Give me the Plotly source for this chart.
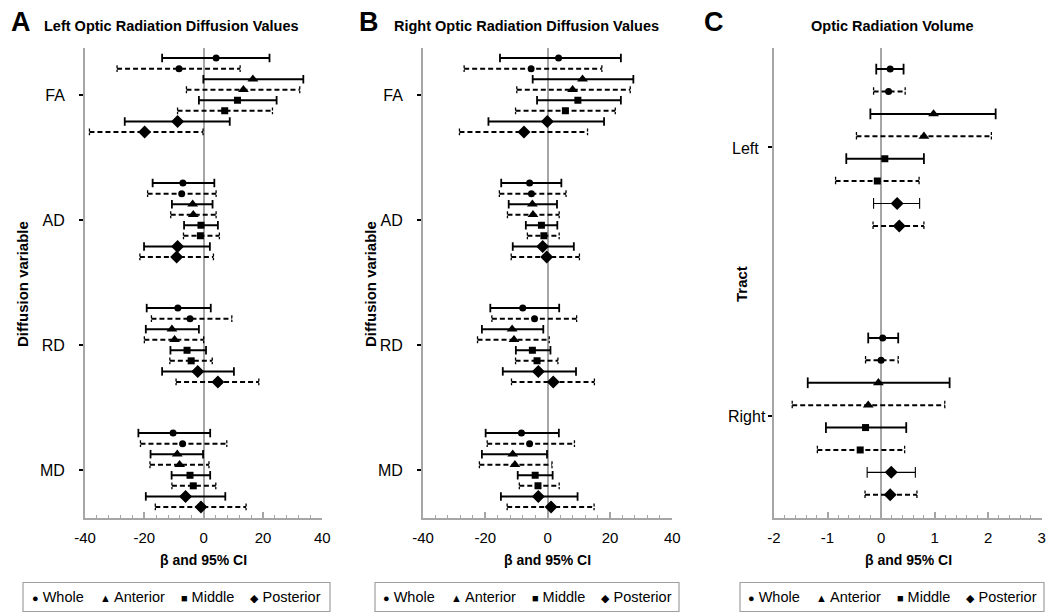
import plotly.graph_objects as go

# ---------------- data ----------------
regions = ["Whole", "Anterior", "Middle", "Posterior"]
diff_vars = ["FA", "AD", "RD", "MD"]
tracts = ["Left", "Right"]
x_ticks_ab = [-40, -20, 0, 20, 40]
x_ticks_c = [-2, -1, 0, 1, 2, 3]

# rows = diffusion variable (FA, AD, RD, MD); columns = region (Whole, Anterior, Middle, Posterior)
A_solid_est = [[4.2, 16.6, 11.4, -8.8], [-7.0, -3.7, -0.9, -8.8], [-8.7, -10.7, -5.6, -2.0], [-10.3, -8.9, -4.6, -6.1]]
A_solid_lo = [[-14.0, -0.1, -1.6, -26.6], [-17.2, -10.7, -6.6, -20.1], [-19.2, -19.5, -11.2, -14.0], [-22.0, -17.9, -10.8, -19.5]]
A_solid_hi = [[22.2, 33.6, 24.6, 8.8], [3.6, 3.0, 4.8, 2.1], [2.4, -1.6, 0.8, 10.2], [2.2, -0.2, 2.2, 7.3]]
A_dash_est = [[-8.3, 13.4, 7.1, -19.9], [-7.4, -3.5, -1.1, -9.1], [-4.6, -9.8, -4.2, 4.8], [-7.1, -8.1, -3.5, -0.9]]
A_dash_lo = [[-29.2, -5.8, -8.8, -38.5], [-18.9, -11.1, -6.8, -21.5], [-17.6, -20.0, -11.4, -9.3], [-21.3, -18.1, -10.7, -16.3]]
A_dash_hi = [[12.3, 32.4, 23.2, -0.2], [4.2, 4.2, 5.3, 3.3], [9.5, 0.0, 2.9, 18.6], [7.8, 1.8, 4.1, 14.3]]

B_solid_est = [[3.5, 11.2, 9.7, -0.1], [-5.8, -4.9, -2.0, -1.6], [-8.0, -11.4, -4.9, -3.0], [-8.4, -11.2, -4.0, -3.0]]
B_solid_lo = [[-15.3, -4.8, -3.4, -19.0], [-14.9, -12.5, -7.0, -11.2], [-18.4, -21.1, -10.2, -14.4], [-19.9, -21.1, -9.6, -15.0]]
B_solid_hi = [[23.5, 27.5, 23.5, 18.1], [4.4, 3.0, 3.1, 8.4], [3.7, -1.4, 0.9, 9.1], [3.6, -0.2, 1.6, 9.6]]
B_dash_est = [[-5.3, 8.0, 5.7, -7.6], [-5.2, -4.7, -1.2, -0.3], [-4.2, -10.8, -3.4, 1.8], [-5.8, -10.5, -3.1, 1.1]]
B_dash_lo = [[-26.8, -9.9, -10.3, -28.3], [-15.5, -12.9, -6.5, -11.7], [-17.9, -22.5, -10.3, -11.6], [-19.4, -21.9, -9.1, -13.0]]
B_dash_hi = [[17.4, 26.5, 21.7, 12.8], [5.9, 3.7, 3.7, 10.2], [9.3, 0.5, 3.3, 15.0], [8.6, 1.4, 3.7, 14.9]]

# rows = tract (Left, Right)
C_solid_est = [[0.17, 0.98, 0.07, 0.30], [0.03, -0.05, -0.29, 0.19]]
C_solid_lo = [[-0.09, -0.20, -0.65, -0.14], [-0.24, -1.37, -1.03, -0.26]]
C_solid_hi = [[0.42, 2.14, 0.80, 0.72], [0.32, 1.28, 0.47, 0.64]]
C_dash_est = [[0.14, 0.80, -0.07, 0.34], [0.00, -0.24, -0.39, 0.17]]
C_dash_lo = [[-0.14, -0.46, -0.85, -0.15], [-0.29, -1.66, -1.19, -0.30]]
C_dash_hi = [[0.45, 2.06, 0.71, 0.80], [0.32, 1.19, 0.44, 0.67]]

# ---------------- style ----------------
FONT = "Liberation Sans, Arial, Helvetica, sans-serif"
GRAY = "#a6a6a6"
symbols = ["circle", "triangle-up", "square", "diamond"]
msizes = [7, 9.5, 7, 10]
W, H = 1047, 613

fig = go.Figure()


def px(xp):
    return xp / W


def py(yp):
    return 1 - yp / H


def add_panel(ax, cats, s_est, s_lo, s_hi, d_est, d_lo, d_hi, step, cap, thin_post=False):
    xa, ya = "x" + ax, "y" + ax
    sl_x, sl_y, slc_x, slc_y = [], [], [], []
    tl_x, tl_y = [], []
    dl_x, dl_y, dlc_x, dlc_y = [], [], [], []
    mk = {r: ([], []) for r in range(4)}
    for ci in range(len(cats)):
        for r in range(4):
            for m in range(2):
                y = ci + (2 * r + m - 3.5) * step
                if m == 0:
                    lo, hi, est = s_lo[ci][r], s_hi[ci][r], s_est[ci][r]
                    if thin_post and r == 3:
                        tl_x.extend([lo, hi, None, lo, lo, None, hi, hi, None])
                        tl_y.extend([y, y, None, y - cap, y + cap, None, y - cap, y + cap, None])
                    else:
                        sl_x.extend([lo, hi, None])
                        sl_y.extend([y, y, None])
                        slc_x.extend([lo, lo, None, hi, hi, None])
                        slc_y.extend([y - cap, y + cap, None, y - cap, y + cap, None])
                else:
                    lo, hi, est = d_lo[ci][r], d_hi[ci][r], d_est[ci][r]
                    dl_x.extend([lo, hi, None])
                    dl_y.extend([y, y, None])
                    dlc_x.extend([lo, lo, None, hi, hi, None])
                    dlc_y.extend([y - cap * 0.8, y + cap * 0.8, None, y - cap * 0.8, y + cap * 0.8, None])
                mk[r][0].append(est)
                mk[r][1].append(y)
    common = dict(xaxis=xa, yaxis=ya, showlegend=False, hoverinfo="skip", mode="lines")
    fig.add_trace(go.Scatter(x=sl_x, y=sl_y, line=dict(color="black", width=2), **common))
    fig.add_trace(go.Scatter(x=slc_x, y=slc_y, line=dict(color="black", width=1.8), **common))
    if tl_x:
        fig.add_trace(go.Scatter(x=tl_x, y=tl_y, line=dict(color="black", width=1.1), **common))
    fig.add_trace(go.Scatter(x=dl_x, y=dl_y, line=dict(color="black", width=2, dash="5px,3px"), **common))
    fig.add_trace(go.Scatter(x=dlc_x, y=dlc_y, line=dict(color="black", width=1.3, dash="3px,1.5px"), **common))
    for r in range(4):
        fig.add_trace(go.Scatter(x=mk[r][0], y=mk[r][1], mode="markers", xaxis=xa, yaxis=ya,
                                 name=regions[r], showlegend=False, hoverinfo="skip",
                                 marker=dict(symbol=symbols[r], size=msizes[r], color="black")))


add_panel("", diff_vars, A_solid_est, A_solid_lo, A_solid_hi, A_dash_est, A_dash_lo, A_dash_hi, 0.0844, 0.034)
add_panel("2", diff_vars, B_solid_est, B_solid_lo, B_solid_hi, B_dash_est, B_dash_lo, B_dash_hi, 0.0844, 0.034)
add_panel("3", tracts, C_solid_est, C_solid_lo, C_solid_hi, C_dash_est, C_dash_lo, C_dash_hi, 0.0833, 0.02, thin_post=True)

y_dom = [py(518), py(48)]


def xaxis_cfg(dom, ticks, dt):
    return dict(domain=dom, range=[ticks[0], ticks[-1]], tickmode="array", tickvals=ticks,
                ticktext=[str(t) for t in ticks], showgrid=False, automargin=False,
                zeroline=True, zerolinecolor=GRAY, zerolinewidth=2,
                showline=True, linecolor=GRAY, linewidth=2, ticks="inside", ticklen=6,
                tickcolor=GRAY, tickwidth=1.5, ticklabelstandoff=5,
                tickfont=dict(family=FONT, size=15, color="black"),
                minor=dict(tickmode="linear", tick0=ticks[0], dtick=dt / 5, ticks="inside", ticklen=3,
                           tickcolor=GRAY, tickwidth=1, showgrid=False),
                fixedrange=True)


def yaxis_cfg(anchor, rng, vals, texts, standoff):
    return dict(domain=y_dom, range=rng, anchor=anchor, tickmode="array", tickvals=vals, ticktext=texts,
                showgrid=False, zeroline=False, showline=True, linecolor=GRAY, linewidth=2,
                ticks="outside", ticklen=4, tickcolor="black", tickwidth=1.5, automargin=False,
                ticklabelstandoff=standoff,
                tickfont=dict(family=FONT, size=16, color="black"), fixedrange=True)


fig.update_layout(
    template="none",
    width=W, height=H, margin=dict(l=0, r=0, t=0, b=0, pad=0, autoexpand=False),
    paper_bgcolor="white", plot_bgcolor="white", showlegend=False,
    font=dict(family=FONT, color="black"),
    xaxis=dict(**xaxis_cfg([px(85), px(322.3)], x_ticks_ab, 20), anchor="y"),
    xaxis2=dict(**xaxis_cfg([px(423), px(672.3)], x_ticks_ab, 20), anchor="y2"),
    xaxis3=dict(**xaxis_cfg([px(774), px(1041.7)], x_ticks_c, 1), anchor="y3"),
    yaxis=yaxis_cfg("x", [3.384, -0.376], [0, 1, 2, 3], diff_vars, 11),
    yaxis2=yaxis_cfg("x2", [3.384, -0.376], [0, 1, 2, 3], diff_vars, 11),
    yaxis3=yaxis_cfg("x3", [1.378, -0.370], [0, 1], ["", ""], 2),
)

ann = []


def text(x, y, s, size, bold=False, xanchor="center", angle=0):
    ann.append(dict(x=px(x), y=py(y), xref="paper", yref="paper", text=("<b>%s</b>" % s) if bold else s,
                    showarrow=False, xanchor=xanchor, yanchor="middle", textangle=angle,
                    font=dict(family=FONT, size=size, color="black")))


# panel letters and titles
text(9, 22, "A", 27, True, "left")
text(42, 26, "Left Optic Radiation Diffusion Values", 14.5, True, "left")
text(357, 22, "B", 27, True, "left")
text(392, 26, "Right Optic Radiation Diffusion Values", 14.5, True, "left")
text(702, 22, "C", 27, True, "left")
text(892, 26, "Optic Radiation Volume", 14.5, True)

# axis titles
for cx in [203.6, 547.6, 908]:
    text(cx, 560, "β and 95% CI", 14, True)
text(22, 284, "Diffusion variable", 15, True, angle=-90)
text(370, 284, "Diffusion variable", 15, True, angle=-90)
text(741, 284, "Tract", 15, True, angle=-90)

# panel C category labels (centered like the original)
text(745, 148, tracts[0], 16)
text(747, 416, tracts[1], 16)

# legends
marks = ["●", "▲", "■", "◆"]
nb = "\u00a0"
leg_items = []
for s, r in zip(marks, regions):
    leg_items.append("<span style='font-size:11px'>%s</span> %s" % (s, r))
leg_text = (nb * 4).join(leg_items)
shapes = []
for (l, r) in [(23, 330), (375, 679), (740, 1044)]:
    shapes.append(dict(type="rect", xref="paper", yref="paper", x0=px(l), x1=px(r), y0=py(611.5), y1=py(582.5),
                       line=dict(color="#a0a0a0", width=1.2), fillcolor="rgba(0,0,0,0)"))
    text((l + r) / 2, 597, leg_text, 14.5)

fig.update_layout(annotations=ann, shapes=shapes)
fig.write_html("out.html", config={"displayModeBar": False},
               post_script="document.body.style.margin='0';document.body.style.overflow='hidden';")
